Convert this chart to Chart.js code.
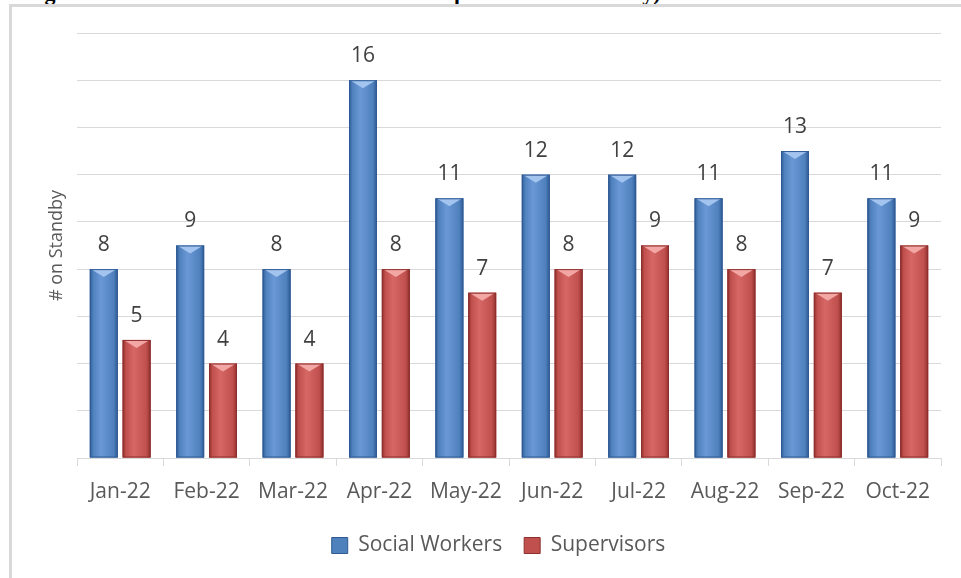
<!DOCTYPE html>
<html>
<head>
<meta charset="utf-8">
<script src="https://cdn.jsdelivr.net/npm/chart.js@4.4.1/dist/chart.umd.min.js"></script>
<style>
html,body{margin:0;padding:0;background:#fff;overflow:hidden}
#wrap{position:relative;width:961px;height:578px}
#caption{position:absolute;left:25px;top:-20px;white-space:nowrap;font:bold 22px "Liberation Serif",serif;color:#000}
#frame{position:absolute;left:9px;top:4px;width:1000px;height:600px;border-top:3px solid #d9d9d9;border-left:3px solid #d9d9d9}
#c{position:absolute;left:0;top:0}
</style>
</head>
<body>
<div id="wrap">
<div id="caption">Figure 3.1: Number of Social Workers and Supervisors on Standby)</div>
<div id="frame"></div>
<canvas id="c" width="961" height="578"></canvas>
</div>
<script>
let meses = ["Jan-22","Feb-22","Mar-22","Apr-22","May-22","Jun-22","Jul-22","Aug-22","Sep-22","Oct-22"]
let socialWorkers = [8,9,8,16,11,12,12,11,13,11]
let supervisors = [5,4,4,8,7,8,9,8,7,9]
let yTicks = [0,2,4,6,8,10,12,14,16,18]

let fonte = "'Open Sans', sans-serif"

// cores: base, escura, clara (bisel)
let tons = [
{base:"#4f81bd", escura:"#2f5a94", clara:"#a3c4ee", brilho:"#6a98d6"},
{base:"#c0504d", escura:"#8e2f2d", clara:"#f2a7a5", brilho:"#d66764"}
]

let barras3d = {
id:"barras3d",
afterDatasetsDraw(chart){
let ctx = chart.ctx
chart.data.datasets.forEach((ds,i)=>{
let meta = chart.getDatasetMeta(i)
let t = tons[i]
meta.data.forEach((el,j)=>{
let p = el.getProps(["x","y","base","width"],true)
let l = p.x - p.width/2, r = p.x + p.width/2
let g = ctx.createLinearGradient(l,0,r,0)
g.addColorStop(0,t.escura)
g.addColorStop(0.12,t.base)
g.addColorStop(0.4,t.brilho)
g.addColorStop(0.85,t.base)
g.addColorStop(1,t.escura)
ctx.save()
ctx.fillStyle = g
ctx.fillRect(l,p.y,p.width,p.base-p.y)
// bisel no topo
ctx.beginPath()
ctx.moveTo(l+1,p.y)
ctx.lineTo(r-1,p.y)
ctx.lineTo(p.x,p.y+8)
ctx.closePath()
ctx.fillStyle = t.clara
ctx.fill()
ctx.strokeStyle = t.escura
ctx.lineWidth = 1
ctx.strokeRect(l+0.5,p.y+0.5,p.width-1,p.base-p.y-1)
ctx.restore()

// valor acima da barra
ctx.save()
ctx.font = "21px " + fonte
ctx.fillStyle = "#404040"
ctx.textAlign = "center"
ctx.textBaseline = "middle"
ctx.fillText(ds.data[j], p.x, p.y - 24)
ctx.restore()
})
})
}
}

new Chart(document.getElementById("c"),{
type:"bar",
data:{
labels:meses,
datasets:[
{label:"Social Workers",data:socialWorkers,backgroundColor:tons[0].base,categoryPercentage:0.76,barPercentage:0.85},
{label:"Supervisors",data:supervisors,backgroundColor:tons[1].base,categoryPercentage:0.76,barPercentage:0.85}
]
},
options:{
responsive:false,
animation:false,
layout:{padding:{top:33,right:20,left:56,bottom:12}},
plugins:{
tooltip:{enabled:false},
legend:{
position:"bottom",
labels:{
boxWidth:16,boxHeight:16,padding:22,color:"#595959",
font:{family:fonte,size:21},
generateLabels(chart){
return chart.data.datasets.map((ds,i)=>({
text:ds.label,fillStyle:tons[i].base,strokeStyle:tons[i].escura,lineWidth:1,datasetIndex:i,fontColor:"#595959"
}))
}
}
}
},
scales:{
x:{
grid:{drawOnChartArea:false,drawTicks:true,tickLength:8,color:"#d9d9d9",offset:true},
border:{display:true,color:"#d9d9d9"},
ticks:{color:"#595959",font:{family:fonte,size:21},padding:13,maxRotation:0},
afterFit(scale){scale.height = 55}
},
y:{
min:0,max:18,
afterBuildTicks(scale){scale.ticks = yTicks.map(v=>({value:v}))},
grid:{color:"#d9d9d9",drawTicks:false},
border:{display:false},
ticks:{display:false},
title:{display:true,text:"# on Standby",color:"#595959",font:{family:fonte,size:18},padding:{top:-10,bottom:0}},
afterFit(scale){scale.width = 21}
}
}
},
plugins:[barras3d]
})
</script>
</body>
</html>
